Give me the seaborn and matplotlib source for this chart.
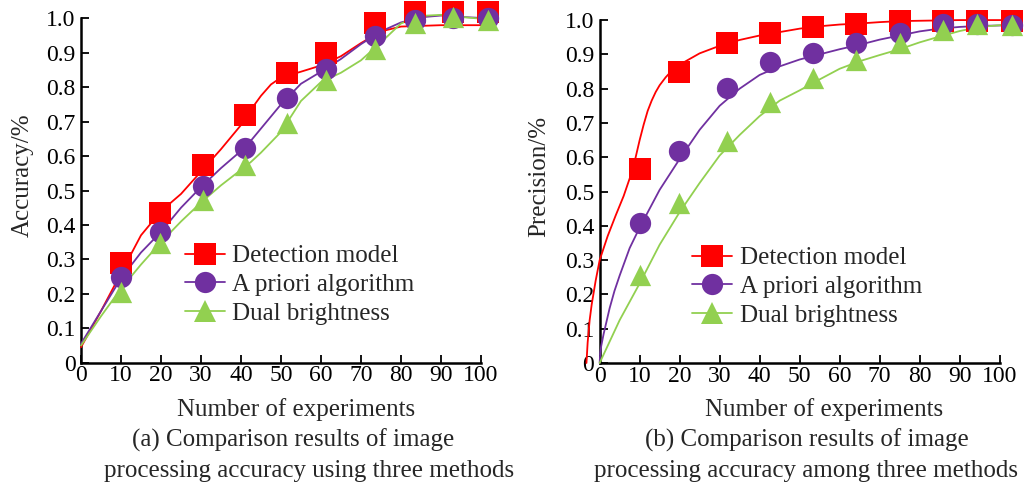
import numpy as np
import pandas as pd
import matplotlib
matplotlib.use('Agg')
import matplotlib.pyplot as plt
from matplotlib.lines import Line2D
import seaborn as sns

# --- data ---
SERIES = ['Detection model', 'A priori algorithm', 'Dual brightness']
COLORS = ['#FF0000', '#7030A0', '#92D050']
MARKERS = ['s', 'o', '^']

# (a) accuracy: marker positions
x_a = [10, 19.8, 30.5, 41.0, 51.5, 61.3, 73.5, 83.5, 93.1, 101.8]
acc_detect = [0.289, 0.436, 0.574, 0.719, 0.842, 0.898, 0.985, 1.018, 1.018, 1.018]
acc_apriori = [0.25, 0.38, 0.513, 0.622, 0.769, 0.852, 0.949, 0.995, 1.0, 1.0]
acc_dual = [0.206, 0.347, 0.472, 0.574, 0.695, 0.821, 0.91, 0.985, 1.003, 0.995]

# (a) fitted curves
curve_x_a = [0, 5, 10, 15, 20, 25, 30, 35, 40, 42.5, 45, 47.5, 50, 55, 60, 65, 70, 75, 80, 85,
             90, 95, 101.8]
curve_acc_detect = [0.045, 0.15, 0.26, 0.37, 0.44, 0.49, 0.555, 0.62, 0.69, 0.735, 0.775,
                    0.808, 0.828, 0.845, 0.863, 0.89, 0.928, 0.962, 0.976, 0.978, 0.98, 0.98, 0.98]
curve_acc_apriori = [0.055, 0.15, 0.245, 0.32, 0.38, 0.45, 0.51, 0.565, 0.615, 0.645, 0.68,
                     0.715, 0.75, 0.81, 0.845, 0.882, 0.925, 0.962, 0.988, 1.003, 1.008, 1.004, 1.0]
curve_acc_dual = [0.05, 0.135, 0.215, 0.285, 0.35, 0.41, 0.465, 0.515, 0.56, 0.583, 0.61,
                  0.64, 0.67, 0.76, 0.815, 0.842, 0.878, 0.93, 0.985, 1.007, 1.01, 1.004, 0.997]

# (b) precision: marker positions
x_b = [10, 19.8, 31.9, 42.7, 53.4, 64.2, 75.1, 85.9, 94.3, 103]
prec_detect = [0.565, 0.849, 0.934, 0.961, 0.98, 0.99, 0.998, 0.998, 0.998, 0.998]
prec_apriori = [0.407, 0.619, 0.801, 0.878, 0.905, 0.932, 0.963, 0.99, 0.99, 0.985]
prec_dual = [0.257, 0.466, 0.646, 0.762, 0.83, 0.883, 0.932, 0.971, 0.99, 0.985]

# (b) fitted curves
curve_x_b_detect = [-3.3, -3.0, -2.5, -2.0, -1, 0, 2, 4, 6, 8, 9, 10, 11, 12, 13, 14, 15, 16.5,
                    18, 20, 25, 30, 35, 40, 45, 50, 55, 60, 65, 70, 75, 80, 90, 103]
curve_prec_detect = [0, 0.06, 0.125, 0.17, 0.24, 0.30, 0.37, 0.43, 0.487, 0.555, 0.60, 0.65,
                     0.695, 0.735, 0.765, 0.79, 0.81, 0.833, 0.852, 0.87, 0.903, 0.925, 0.942,
                     0.955, 0.965, 0.975, 0.982, 0.987, 0.99, 0.994, 0.997, 0.998, 1.0, 1.0]
curve_x_b_apriori = [0, 0.15, 0.4, 1, 1.7, 2.5, 3.7, 5, 7.5, 10, 15, 20, 25, 30, 35, 40, 45,
                     50, 55, 60, 65, 70, 75, 80, 85, 90, 95, 103]
curve_prec_apriori = [0, 0.03, 0.05, 0.085, 0.12, 0.16, 0.21, 0.255, 0.335, 0.395, 0.505, 0.595,
                      0.68, 0.75, 0.80, 0.84, 0.865, 0.885, 0.90, 0.915, 0.928, 0.943, 0.955,
                      0.967, 0.975, 0.98, 0.983, 0.985]
curve_x_b_dual = [0, 5, 10, 15, 20, 25, 30, 35, 40, 45, 50, 55, 60, 65, 70, 75, 80, 85, 90, 95, 103]
curve_prec_dual = [0, 0.125, 0.232, 0.345, 0.44, 0.525, 0.605, 0.665, 0.72, 0.765, 0.795, 0.827,
                   0.858, 0.88, 0.898, 0.915, 0.935, 0.952, 0.968, 0.98, 0.988]

X_TICKS = [0, 10, 20, 30, 40, 50, 60, 70, 80, 90, 100]
Y_TICKS = [0, 0.1, 0.2, 0.3, 0.4, 0.5, 0.6, 0.7, 0.8, 0.9, 1.0]
Y_TICKLABELS = ['0', '0.1', '0.2', '0.3', '0.4', '0.5', '0.6', '0.7', '0.8', '0.9', '1.0']

sns.set_theme(style='ticks')
plt.rcParams['font.family'] = ['Liberation Serif', 'DejaVu Serif']
FS = 18        # labels, legend, captions
TICK_FS = 17   # tick labels


def draw_panel(ax, curves, points, ylabel, ylabel_x, legend_anchor):
    for (cx, cy), (px, py), color, marker in zip(curves, points, COLORS, MARKERS):
        sns.lineplot(x=cx, y=cy, ax=ax, color=color, linewidth=1.3, clip_on=False, zorder=3)
        sns.scatterplot(x=px, y=py, ax=ax, color=color, marker=marker, s=235,
                        linewidth=0, clip_on=False, zorder=4)
    ax.set_xlim(0, 100)
    ax.set_ylim(0, 1.0)
    ax.set_xticks(X_TICKS)
    ax.set_xticklabels([str(t) for t in X_TICKS], fontsize=TICK_FS)
    ax.set_yticks(Y_TICKS)
    ax.set_yticklabels(Y_TICKLABELS, fontsize=TICK_FS)
    ax.tick_params(direction='in', length=6, width=1.3, colors='black', pad=4)
    ax.tick_params(axis='x', pad=2)
    sns.despine(ax=ax)
    for sp in ['left', 'bottom']:
        ax.spines[sp].set_linewidth(1.8)
        ax.spines[sp].set_color('black')
    ax.set_ylabel(ylabel, fontsize=FS)
    # label sits a bit above the axis middle in the original
    ax.yaxis.set_label_coords(ylabel_x, 0.545)
    ax.set_xlabel('')

    handles = [Line2D([0], [0], color=c, marker=m, markersize=15.3, linewidth=1.3,
                      markeredgewidth=0) for c, m in zip(COLORS, MARKERS)]
    ax.legend(handles, SERIES, loc='center left', bbox_to_anchor=legend_anchor,
              frameon=False, fontsize=FS, handlelength=1.6, handletextpad=0.3,
              labelspacing=0.25, borderpad=0, borderaxespad=0)


fig = plt.figure(figsize=(10.24, 4.92), dpi=100)
ax1 = fig.add_axes([0.0791, 0.2628, 0.3906, 0.700])
ax2 = fig.add_axes([0.5856, 0.2622, 0.3906, 0.697])

draw_panel(ax1,
           [(curve_x_a, curve_acc_detect), (curve_x_a, curve_acc_apriori), (curve_x_a, curve_acc_dual)],
           [(x_a, acc_detect), (x_a, acc_apriori), (x_a, acc_dual)],
           'Accuracy/%', -0.118, (0.26, 0.226))
draw_panel(ax2,
           [(curve_x_b_detect, curve_prec_detect), (curve_x_b_apriori, curve_prec_apriori),
            (curve_x_b_dual, curve_prec_dual)],
           [(x_b, prec_detect), (x_b, prec_apriori), (x_b, prec_dual)],
           'Precision/%', -0.124, (0.231, 0.222))

# axis titles and captions
fig.text(296 / 1024, 1 - 410 / 492, 'Number of experiments', ha='center', va='center', fontsize=FS)
fig.text(824 / 1024, 1 - 410 / 492, 'Number of experiments', ha='center', va='center', fontsize=FS)
fig.text(293 / 1024, 1 - 440 / 492, '(a) Comparison results of image', ha='center', va='center', fontsize=FS)
fig.text(309 / 1024, 1 - 471 / 492, 'processing accuracy using three methods', ha='center', va='center', fontsize=FS)
fig.text(807 / 1024, 1 - 440 / 492, '(b) Comparison results of image', ha='center', va='center', fontsize=FS)
fig.text(806 / 1024, 1 - 471 / 492, 'processing accuracy among three methods', ha='center', va='center', fontsize=FS)

fig.savefig('out.png', dpi=100, facecolor='white')
